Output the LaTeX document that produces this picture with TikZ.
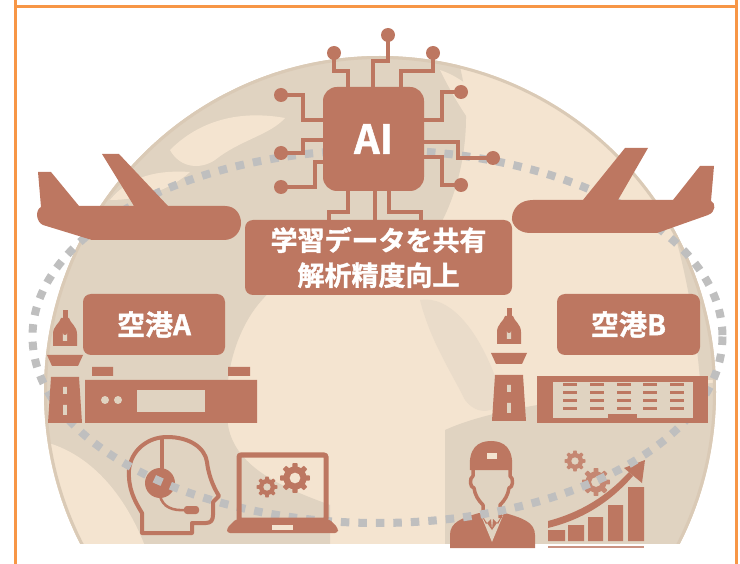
\documentclass[tikz,border=0pt]{standalone}
\usepackage{fontspec}
\newfontfamily\jpb{Noto Sans CJK JP Bold}[FakeBold=1.3]
\definecolor{iconbrown}{RGB}{189,119,97}
\definecolor{globelight}{RGB}{244,228,208}
\definecolor{globeland}{RGB}{224,211,193}
\definecolor{globemid}{RGB}{234,220,202}
\definecolor{globerim}{RGB}{218,202,182}
\definecolor{dashgray}{RGB}{191,191,191}
\definecolor{frameorange}{RGB}{247,150,70}
\begin{document}
\begin{tikzpicture}[x=1pt,y=-1pt,
  trace/.style={draw=iconbrown,line width=3.4pt},
  pinhead/.style={circle,fill=iconbrown,inner sep=0pt,minimum size=14pt},
  chipbox/.style={fill=iconbrown,rounded corners=14pt,minimum width=101pt,minimum height=104pt,
    text=white,font=\jpb\fontsize{40}{40}\selectfont,inner sep=0pt},
  labelbox/.style={fill=iconbrown,rounded corners=8pt,text=white,inner sep=0pt,align=center},
  outline/.style={draw=iconbrown,line width=4pt,line join=round},
  routedash/.style={draw=dashgray,line width=8pt,dash pattern=on 8.5pt off 9pt}]
\useasboundingbox (0,0) rectangle (740,564);

% ---------- frame ----------
\draw[frameorange,line width=3pt] (15.5,0) -- (15.5,564) (736.5,0) -- (736.5,564) (15.5,7) -- (736.5,7);

% ---------- globe ----------
\begin{scope}
  \clip (0,0) rectangle (740,543);
  \fill[globelight] (380,392) circle[radius=336];
  \begin{scope}
    \clip (380,392) circle[radius=336];
    % land masses
    \fill[globeland] (0,40) -- (450,40) .. controls (475,90) and (470,170) .. (440,225)
      .. controls (380,250) and (300,255) .. (262,300)
      .. controls (235,330) and (222,380) .. (228,425)
      .. controls (235,470) and (290,490) .. (330,505) -- (330,560) -- (0,560) -- cycle;
    \fill[globelight] (170,150) .. controls (200,120) and (240,110) .. (285,118)
      .. controls (270,135) and (240,140) .. (215,160) .. controls (200,170) and (180,168) .. (170,150) -- cycle;
    \fill[globelight] (110,200) .. controls (130,175) and (160,170) .. (190,172)
      .. controls (170,190) and (140,200) .. (110,200) -- cycle;
    \fill[globelight] (0,440) .. controls (60,430) and (120,470) .. (150,560) -- (0,560) -- cycle;
    \fill[globelight] (440,70) .. controls (470,80) and (500,110) .. (500,150)
      .. controls (480,140) and (460,110) .. (440,70) -- cycle;
    \fill[globemid] (420,300) .. controls (450,295) and (480,330) .. (500,390)
      .. controls (505,410) and (480,420) .. (465,400)
      .. controls (450,370) and (430,340) .. (420,300) -- cycle;
    \fill[globeland] (445,430) .. controls (500,405) and (600,395) .. (740,380)
      -- (740,560) -- (445,560) -- cycle;
    \fill[globeland] (620,110) .. controls (660,170) and (690,260) .. (700,380)
      -- (740,380) -- (740,110) -- cycle;
  \end{scope}
  \draw[globerim,line width=3pt] (380,392) circle[radius=334.5];
\end{scope}

% ---------- lower icons that the route crosses ----------
% support agent with headset
\draw[outline] (142,533) -- (142,513) .. controls (134,500) and (128,488) .. (129,470)
  .. controls (131,450) and (148,437) .. (167,437)
  .. controls (190,437) and (205,448) .. (207,462)
  .. controls (208,472) and (212,485) .. (219,496) -- (213,502) -- (213,515)
  .. controls (213,520) and (211,523) .. (206,523) -- (192,523) -- (192,533) -- cycle;
\draw[iconbrown,line width=4pt] (162,437) -- (162,470);
\fill[iconbrown] (160,483) circle[radius=15];
\draw[iconbrown,line width=2.6pt] (160,496) .. controls (163,507) and (172,511) .. (186,510);
\fill[iconbrown,rounded corners=3pt] (184,506) rectangle (199,514);

% mechanic
\fill[iconbrown] (450,548) -- (450,535) .. controls (450,522) and (462,518) .. (479,513)
  -- (505,513) .. controls (522,518) and (535,522) .. (535,535) -- (535,548) -- cycle;
\fill[globeland] (480,513) -- (492,542) -- (504,513) -- cycle;
\fill[iconbrown] (480,513) -- (486,524) -- (491,519) -- (492,530) -- cycle;
\fill[iconbrown] (504,513) -- (498,524) -- (493,519) -- (492,530) -- cycle;
\filldraw[fill=globeland,draw=iconbrown,line width=3.5pt,line join=round]
  (483,518) -- (483,505) .. controls (478,500) and (475,495) .. (474,488)
  .. controls (470,488) and (469,478) .. (473,476) -- (473,468) -- (510,468) -- (510,476)
  .. controls (514,478) and (513,488) .. (509,488)
  .. controls (508,495) and (505,500) .. (500,505) -- (500,518);
\fill[iconbrown] (470,470) .. controls (468,448) and (478,441) .. (491,441)
  .. controls (504,441) and (514,448) .. (512,470) -- cycle;
\fill[globelight] (487,453) rectangle (497,459);

% growth chart
\fill[iconbrown] (548,530) rectangle (565,541) (568,525) rectangle (584,541)
  (588,517) rectangle (603,541) (608,505) rectangle (623,541) (628,487) rectangle (644,541);
\draw[iconbrown!80,line width=2pt] (548,546.5) -- (644,546.5);
\fill[iconbrown] (548,528) .. controls (585,519) and (612,500) .. (633,476)
  -- (629,472) .. controls (608,495) and (582,512) .. (548,521) -- cycle;
\fill[iconbrown] (645,460) -- (642,483) -- (624,468) -- cycle;
\newcommand\drawgear[6]{%
  \fill[#6,even odd rule,shift={#1}]
    plot[domain=0:360,samples=241,variable=\t]
      (\t:{#4+(#3-#4)*max(0,min(1,0.5+1.7*cos(#2*\t)))}) -- cycle
    (0,0) circle[radius=#5];}
\drawgear{(575,461)}{8}{10.5}{8}{3.8}{iconbrown!85!globelight}
\drawgear{(596,482)}{8}{14}{10.5}{5}{iconbrown!85!globelight}

% ---------- flight route ----------
\draw[routedash] (377.5,336.5) ellipse[x radius=345,y radius=186.5];

% laptop with gears
\draw[iconbrown,line width=5pt,rounded corners=2pt] (239,455) rectangle (326,520);
\fill[iconbrown,rounded corners=3pt] (236,519) -- (329,519) -- (338,528) -- (338,533) -- (227,533) -- (227,528) -- cycle;
\fill[globelight] (272,525) rectangle (293,529.5);
\drawgear{(267,487)}{8}{10.5}{8}{3.8}{iconbrown}
\drawgear{(295,478)}{8}{15}{11.5}{5.5}{iconbrown}

% ---------- airplanes ----------
\fill[iconbrown] (38,172) -- (51,172) -- (79,206) -- (134,206) -- (102,154) -- (119,154)
  -- (168,206) -- (225,206) .. controls (236,206) and (241,215) .. (241,223)
  .. controls (241,232) and (234,240) .. (224,240) -- (92,240) -- (43,225)
  .. controls (36,222) and (35,210) .. (41,207) -- cycle;
\fill[iconbrown] (533,200) -- (583,200) -- (625,148) -- (648,148) -- (618,200) -- (673,200)
  -- (700,166) -- (714,166) -- (711,201) .. controls (716,203) and (716,212) .. (708,215)
  -- (657,233) -- (530,233) .. controls (518,233) and (511,224) .. (512,217)
  .. controls (513,208) and (520,200) .. (533,200) -- cycle;

% ---------- AI chip ----------
\node[chipbox] (chip) at (373.5,139) {AI};
\foreach \n/\x/\y in {t1/388/35, t2/334/53, t3/433/53, l1/281/95, l2/281/153, l3/281/187,
    r1/461/92, r2/493/158, r3/461/185} {\node[pinhead] (\n) at (\x,\y) {};}
\draw[trace] (t1.center) -- (388,61) -- (373,61) -- (373,0 |- chip.north);
\draw[trace] (t2.center) -- (334,71) -- (348,71) -- (348,0 |- chip.north);
\draw[trace] (t3.center) -- (433,71) -- (401,71) -- (401,0 |- chip.north);
\draw[trace] (l1.center) -- (303,95) -- (303,120) -- (chip.west |- 0,120);
\draw[trace] (l2.center) -- (303,153) -- (303,140) -- (chip.west |- 0,140);
\draw[trace] (l3.center) -- (315,187) -- (315,162) -- (chip.west |- 0,162);
\draw[trace] (r1.center) -- (442,92) -- (442,120) -- (chip.east |- 0,120);
\draw[trace] (r2.center) -- (458,158) -- (458,142) -- (chip.east |- 0,142);
\draw[trace] (r3.center) -- (442,185) -- (442,157) -- (chip.east |- 0,157);

% ---------- caption box ----------
\node[labelbox,minimum width=267pt,minimum height=75pt,
  font=\jpb\fontsize{27}{35}\selectfont] (share) at (378.5,257.5) {学習データを共有\\解析精度向上};
\draw[trace] (348,0 |- chip.south) -- (348,212) -- (329,212) -- (329,0 |- share.north);
\draw[trace] (375,0 |- chip.south) -- (375,0 |- share.north);
\draw[trace] (389,0 |- chip.south) -- (389,212) -- (421,212) -- (421,0 |- share.north);

% ---------- airports ----------
\node[labelbox,minimum width=142pt,minimum height=61pt,font=\jpb\fontsize{28}{28}\selectfont]
  (portA) at (154,324.5) {空港A};
\node[labelbox,minimum width=143pt,minimum height=61pt,font=\jpb\fontsize{28}{28}\selectfont]
  (portB) at (628.5,324.5) {空港B};

% control towers
\foreach \cx/\ty in {65/310, 509/308} {
  \begin{scope}[shift={(\cx,\ty)}]
    \fill[iconbrown] (-2.5,0) rectangle (2.5,8);
    \fill[iconbrown] (-12,36) -- (-12,24) .. controls (-12,16) and (-5,13) .. (-4,8)
      -- (4,8) .. controls (5,13) and (12,16) .. (12,24) -- (12,36) -- cycle;
    \fill[globeland] (-2.2,31) -- (-2.2,23) arc[start angle=180,end angle=0,radius=2.2] -- (2.2,31) -- cycle;
    \fill[iconbrown] (-18,45) -- (18,45) -- (13,56) -- (-13,56) -- cycle;
    \fill[iconbrown] (-14,67) -- (14,67) -- (17,113) -- (-17,113) -- cycle;
    \fill[globeland] (-1.8,77) rectangle (1.8,84) (-1.8,95) rectangle (1.8,105);
  \end{scope}}

% terminal A
\fill[iconbrown] (85,380) rectangle (257,423) (92,367) rectangle (113,376) (228,367) rectangle (250,376);
\fill[globeland] (105,400) circle[radius=4] (118,400) circle[radius=4];
\fill[globeland] (137,390) rectangle (205,412);

% terminal B
\fill[iconbrown] (537,376) rectangle (708,423);
\fill[globeland] (553,382) rectangle (693,418);
\fill[iconbrown] (608,414) rectangle (637,418);
\foreach \wx in {563,590,617,643,670}
  \foreach \wy in {383,391,399,407}
    \fill[iconbrown] (\wx,\wy) rectangle ++(14,3.2);
\end{tikzpicture}
\end{document}
